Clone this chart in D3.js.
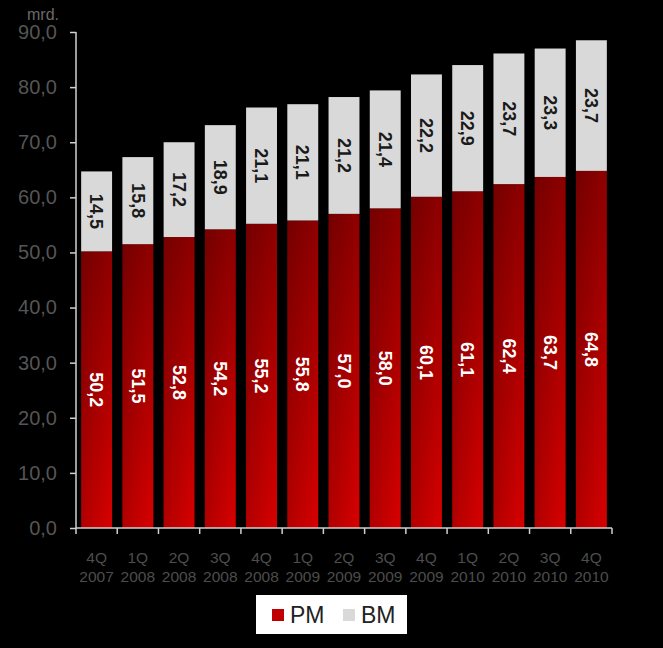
<!DOCTYPE html>
<html><head><meta charset="utf-8">
<script src="https://cdn.jsdelivr.net/npm/d3@7"></script>
<style>html,body{margin:0;padding:0;background:#000;}svg{display:block;}</style>
</head><body>
<script>
const quarters = ["4Q","1Q","2Q","3Q","4Q","1Q","2Q","3Q","4Q","1Q","2Q","3Q","4Q"];
const years = ["2007","2008","2008","2008","2008","2009","2009","2009","2009","2010","2010","2010","2010"];
const pm = [50.2,51.5,52.8,54.2,55.2,55.8,57.0,58.0,60.1,61.1,62.4,63.7,64.8];
const bm = [14.5,15.8,17.2,18.9,21.1,21.1,21.2,21.4,22.2,22.9,23.7,23.3,23.7];
const yTicks = [0,10,20,30,40,50,60,70,80,90];
const seriesNames = ["PM","BM"];

const W = 663, H = 648;
const svg = d3.select("body").append("svg").attr("width", W).attr("height", H);
svg.append("rect").attr("width", W).attr("height", H).attr("fill", "#000");

const defs = svg.append("defs");
const gv = defs.append("linearGradient").attr("id","redV").attr("x1",0).attr("y1",0).attr("x2",0).attr("y2",1);
gv.append("stop").attr("offset","0%").attr("stop-color","#8e0000");
gv.append("stop").attr("offset","100%").attr("stop-color","#d80000");
const gh = defs.append("linearGradient").attr("id","shadeH").attr("x1",0).attr("y1",0).attr("x2",1).attr("y2",0);
gh.append("stop").attr("offset","0%").attr("stop-color","#000").attr("stop-opacity",0.18);
gh.append("stop").attr("offset","100%").attr("stop-color","#000").attr("stop-opacity",0);

const x0 = 76, x1 = 612, yBase = 528, yTop = 32;
const x = d3.scaleBand().domain(d3.range(quarters.length)).range([x0, x1]).paddingInner(0.25).paddingOuter(0.125);
const y = d3.scaleLinear().domain([0, 90]).range([yBase, yTop]);

const fmt = v => d3.format(".1f")(v).replace(".", ",");

// bars
const g = svg.append("g");
pm.forEach((v, i) => {
  const bx = x(i), bw = x.bandwidth();
  g.append("rect").attr("x", bx).attr("y", y(v)).attr("width", bw).attr("height", y(0) - y(v)).attr("fill", "url(#redV)");
  g.append("rect").attr("x", bx).attr("y", y(v)).attr("width", bw).attr("height", y(0) - y(v)).attr("fill", "url(#shadeH)");
  g.append("rect").attr("x", bx).attr("y", y(v + bm[i])).attr("width", bw).attr("height", y(v) - y(v + bm[i])).attr("fill", "#d9d9d9");
  const cx = bx + bw / 2;
  g.append("text").attr("transform", `translate(${cx},${(y(0)+y(v))/2}) rotate(90)`)
    .attr("text-anchor","middle").attr("dy","0.35em")
    .attr("font-family","Liberation Sans, Arial, sans-serif").attr("font-weight","bold").attr("font-size",18)
    .attr("fill","#fff").text(fmt(v));
  g.append("text").attr("transform", `translate(${cx},${(y(v)+y(v+bm[i]))/2}) rotate(90)`)
    .attr("text-anchor","middle").attr("dy","0.35em")
    .attr("font-family","Liberation Sans, Arial, sans-serif").attr("font-weight","bold").attr("font-size",18)
    .attr("fill","#1a1a1a").text(fmt(bm[i]));
});

// y axis
const yAxis = d3.axisLeft(y).tickValues(yTicks).tickSize(6).tickPadding(13).tickFormat(fmt);
const ya = svg.append("g").attr("transform", `translate(${x0},0)`).call(yAxis);
ya.select(".domain").attr("stroke","#d0d0d0").attr("stroke-width",1.5).attr("d", `M0,${yBase}V${yTop}`);
ya.selectAll(".tick line").attr("stroke","#d0d0d0").attr("stroke-width",1.5);
ya.selectAll(".tick text").attr("fill","#555").attr("font-family","Liberation Sans, Arial, sans-serif").attr("font-size",20);

// x axis
const xa = svg.append("g").attr("transform", `translate(0,${yBase})`);
xa.append("line").attr("x1", x0).attr("x2", x1).attr("stroke","#d0d0d0").attr("stroke-width",1.5);
d3.range(quarters.length + 1).forEach(i => {
  const tx = x0 + i * (x1 - x0) / quarters.length;
  xa.append("line").attr("x1", tx).attr("x2", tx).attr("y1", 0).attr("y2", 6).attr("stroke","#d0d0d0").attr("stroke-width",1.5);
});
quarters.forEach((q, i) => {
  const cx = x(i) + x.bandwidth() / 2;
  const t = xa.append("text").attr("text-anchor","middle").attr("fill","#4d4d4d")
    .attr("font-family","Liberation Sans, Arial, sans-serif").attr("font-size",15.5);
  t.append("tspan").attr("x", cx).attr("y", 35).text(q);
  t.append("tspan").attr("x", cx).attr("y", 54).text(years[i]);
});

// unit label
svg.append("text").attr("x", 27).attr("y", 20).attr("fill","#6a6a6a")
  .attr("font-family","Liberation Sans, Arial, sans-serif").attr("font-size",16).text("mrd.");

// legend
const lg = svg.append("g");
lg.append("rect").attr("x",256).attr("y",595).attr("width",151).attr("height",39).attr("fill","#fff");
const legColors = ["#c00000","#d9d9d9"];
const legX = [272, 343];
seriesNames.forEach((n, i) => {
  lg.append("rect").attr("x", legX[i]).attr("y", 609).attr("width", 12).attr("height", 12).attr("fill", legColors[i]);
  lg.append("text").attr("x", legX[i] + 18).attr("y", 623).attr("fill","#222")
    .attr("font-family","Liberation Sans, Arial, sans-serif").attr("font-size",23).text(n);
});
</script>
</body></html>
